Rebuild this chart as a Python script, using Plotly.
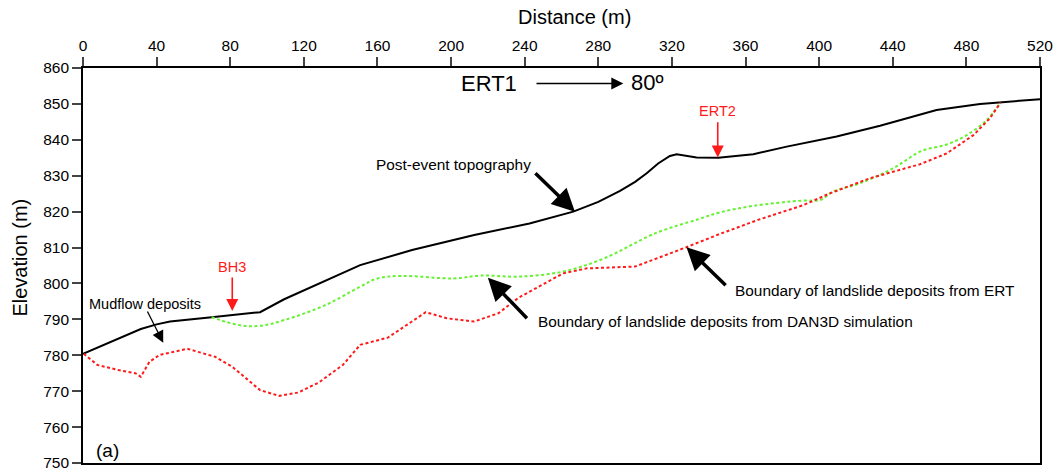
import plotly.graph_objects as go

# Post-event topography
topo_x = [0, 31.4, 40, 47.3, 69.9, 96.2, 109.3, 150.6, 178.8, 212.6, 242.6, 266.4, 280, 291.8, 300, 306.3,
          312.5, 318.9, 322.6, 327, 333.4, 345.2, 364.2, 382.4, 409.5, 433.1, 463.8, 487.4, 520]
topo_y = [780.4, 787.3, 788.6, 789.4, 790.6, 792.0, 795.6, 805.1, 809.3, 813.5, 816.7, 820.0, 822.7, 825.8, 828.3, 830.7,
          833.4, 835.5, 836.0, 835.7, 835.1, 835.0, 836.0, 838.1, 840.9, 843.9, 848.3, 850.0, 851.3]

# Boundary of landslide deposits from DAN3D simulation
dan_x = [69.9, 84.9, 96.2, 109.3, 131.8, 150.6, 160, 173.1, 201.3, 216.3, 236.6, 260.8, 283.2, 311.1,
         334.4, 346.1, 364.2, 391.4, 400.5, 407.7, 422.2, 440.3, 455.7, 469.3, 480.2, 491, 498.6]
dan_y = [790.6, 788.4, 788.2, 789.8, 794.0, 799.1, 801.4, 802.1, 801.4, 802.2, 801.9, 803.3, 807.0, 814.0,
         817.9, 819.8, 821.6, 823.1, 823.2, 825.6, 827.9, 832.1, 836.9, 838.7, 841.3, 845.5, 850.4]

# Boundary of landslide deposits from ERT
ert_x = [0.4, 7.9, 19.2, 28.5, 31.4, 36.1, 41.7, 56.7, 71.7, 81.1, 96.2, 106.5, 116.8, 128.1, 141.2,
         150.6, 165.6, 186.3, 197.6, 212.6, 225.7, 236.6, 260.8, 273.8, 300, 307.4, 327.9, 346.1,
         367.9, 391.4, 405.9, 427.6, 454.8, 469.3, 483.8, 492.8, 498.6]
ert_y = [780.4, 777.3, 775.9, 775.0, 774.0, 778.2, 780.1, 781.8, 779.6, 776.8, 770.3, 768.7, 769.6, 772.4,
         777.3, 782.9, 784.9, 792.0, 790.3, 789.4, 791.7, 796.0, 802.8, 804.2, 804.7, 806.1, 810.1, 813.8,
         817.9, 821.8, 825.1, 829.3, 833.2, 836.2, 841.3, 846.0, 850.4]

x_ticks = list(range(0, 521, 40))
y_ticks = list(range(750, 861, 10))

FONT = "Liberation Sans, Arial, sans-serif"
RED = "#FF1A1A"
GREEN = "#66F233"

fig = go.Figure()
fig.add_trace(go.Scatter(x=topo_x, y=topo_y, mode="lines", line=dict(color="black", width=2),
                         showlegend=False))
fig.add_trace(go.Scatter(x=dan_x, y=dan_y, mode="lines", line=dict(color=GREEN, width=2, dash="3px,2.5px"),
                         line_shape="spline", showlegend=False))
fig.add_trace(go.Scatter(x=ert_x, y=ert_y, mode="lines", line=dict(color=RED, width=2, dash="3px,2.5px"),
                         showlegend=False))

ann = []
def text(x, y, s, size=15.4, color="black", xanchor="center", xref="x", yref="y", angle=0):
    ann.append(dict(x=x, y=y, text=s, showarrow=False, xref=xref, yref=yref, xanchor=xanchor,
                    yanchor="middle", textangle=angle, font=dict(family=FONT, size=size, color=color)))

def arrow(x0, y0, x1, y1, color="black", width=3.5, size=1.3, head=2):
    ann.append(dict(x=x1, y=y1, ax=x0, ay=y0, xref="x", yref="y", axref="x", ayref="y", text="",
                    showarrow=True, arrowhead=head, arrowsize=size, arrowwidth=width, arrowcolor=color,
                    standoff=0, startstandoff=0))

text(0.514, 1 + 51 / 395, "Distance (m)", size=20, xref="paper", yref="paper")
text(-63 / 957, 0.52, "Elevation (m)", size=20, xref="paper", yref="paper", angle=-90)
text(220.6, 855.7, "ERT1", size=22)
arrow(245.6, 855.7, 293.6, 855.7, width=1.5, size=1.6)
text(296.7, 855.9, "80º", size=22, xanchor="left")
text(344.9, 848.0, "ERT2", size=14.5, color=RED)
arrow(344.9, 845.3, 344.9, 835.1, color=RED, width=1.6, size=1.5)
text(81.1, 804.6, "BH3", size=14.5, color=RED)
arrow(81.1, 802.1, 81.1, 792.3, color=RED, width=1.6, size=1.5)
text(1.9, 794.3, "Mudflow deposits", size=14.5, xanchor="left")
arrow(34.6, 792.6, 43.6, 783.5, width=1.3, size=1.8)
text(244.7, 833.0, "Post-event topography", xanchor="right")
arrow(245.0, 831.1, 267.3, 820.0)
text(245.9, 789.4, "Boundary of landslide deposits from DAN3D simulation", xanchor="left")
arrow(242.0, 789.9, 220.0, 801.6)
text(353.3, 798.0, "Boundary of landslide deposits from ERT", xanchor="left")
arrow(350.0, 799.1, 327.9, 810.1)
text(6, 753.6, "(a)", size=19, xanchor="left")

fig.update_layout(
    width=1058, height=475, margin=dict(l=83, r=18, t=68, b=12, autoexpand=False),
    plot_bgcolor="white", paper_bgcolor="white",
    font=dict(family=FONT, size=15.5, color="black"),
    annotations=ann,
    xaxis=dict(range=[0, 520], side="top", tickvals=x_ticks, ticks="outside", ticklen=9, tickwidth=1.6,
               showline=True, linewidth=1.6, linecolor="black", mirror=True, showgrid=False, zeroline=False,
               tickfont=dict(size=15.5), automargin=False),
    yaxis=dict(range=[750, 860], tickvals=y_ticks, ticks="outside", ticklen=9, tickwidth=1.6,
               showline=True, linewidth=1.6, linecolor="black", mirror=True, showgrid=False, zeroline=False,
               tickfont=dict(size=15.5), automargin=False),
)
fig.write_html("out.html")
